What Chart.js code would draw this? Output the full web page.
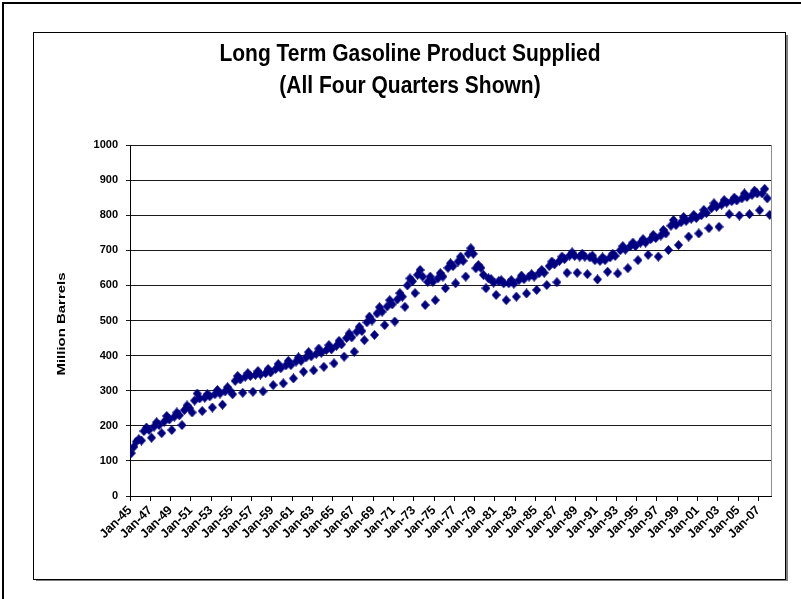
<!DOCTYPE html>
<html>
<head>
<meta charset="utf-8">
<script src="https://cdn.jsdelivr.net/npm/chart.js@4.4.1/dist/chart.umd.min.js"></script>
<style>
  html, body { margin: 0; padding: 0; background: #fff; }
  canvas { display: block; }
</style>
</head>
<body>
<canvas id="gasChart" width="801" height="599"></canvas>
<script>
// ── Data (million barrels per quarter, 1945..2008) ──────────
const firstYear = 1945;
const q1 = [122, 158, 166, 179, 188, 202, 238, 242, 252, 260,
            290, 294, 297, 298, 316, 321, 335, 354, 358, 368,
            378, 397, 411, 444, 459, 487, 497, 539, 578, 544,
            558, 592, 606, 625, 649, 592, 573, 558, 568, 577,
            587, 601, 609, 636, 636, 632, 617, 639, 634, 649,
            672, 687, 682, 701, 715, 739, 748, 763, 767, 803,
            799, 803, 814, 801];
const q2 = [140, 185, 198, 212, 226, 245, 272, 280, 290, 298,
            328, 340, 345, 350, 362, 372, 383, 395, 405, 416,
            428, 450, 468, 495, 520, 540, 560, 600, 630, 610,
            620, 650, 668, 690, 658, 620, 612, 606, 615, 625,
            635, 655, 670, 685, 682, 680, 670, 680, 700, 712,
            722, 732, 742, 770, 780, 790, 800, 820, 830, 840,
            848, 858, 862];
const q3 = [155, 195, 210, 228, 238, 258, 292, 290, 302, 310,
            342, 350, 356, 362, 376, 385, 395, 410, 420, 430,
            442, 463, 482, 511, 538, 558, 578, 620, 644, 625,
            635, 663, 682, 706, 650, 618, 615, 615, 628, 632,
            644, 668, 682, 694, 690, 685, 680, 690, 712, 722,
            732, 744, 758, 786, 795, 801, 815, 834, 843, 850,
            862, 870, 875];
const q4 = [162, 188, 202, 218, 230, 250, 278, 284, 292, 300,
            332, 342, 346, 352, 364, 373, 385, 398, 408, 418,
            432, 452, 470, 500, 525, 546, 568, 612, 625, 610,
            625, 655, 670, 690, 630, 608, 606, 605, 618, 625,
            636, 660, 675, 684, 682, 672, 672, 684, 702, 712,
            722, 735, 748, 772, 784, 792, 806, 824, 836, 842,
            852, 862, 848];

const xTickLabels = ["Jan-45", "Jan-47", "Jan-49", "Jan-51", "Jan-53", "Jan-55", "Jan-57", "Jan-59",
                     "Jan-61", "Jan-63", "Jan-65", "Jan-67", "Jan-69", "Jan-71", "Jan-73", "Jan-75",
                     "Jan-77", "Jan-79", "Jan-81", "Jan-83", "Jan-85", "Jan-87", "Jan-89", "Jan-91",
                     "Jan-93", "Jan-95", "Jan-97", "Jan-99", "Jan-01", "Jan-03", "Jan-05", "Jan-07"];
const yTickLabels = ["0", "100", "200", "300", "400", "500", "600", "700", "800", "900", "1000"];
const titleLines = ["Long Term Gasoline Product Supplied", "(All Four Quarters Shown)"];
const yTitle = "Million Barrels";

const NAVY = "#000080";
const FONT = '"Liberation Sans", Arial, sans-serif';

// quarters laid out as categories: point i sits in the middle of slot i
function quarterPoints() {
    const pts = [];
    for (let i = 0; i < q1.length; i++) {
        [q1[i], q2[i], q3[i], q4[i]].forEach((v, q) => {
            if (v === undefined) return;
            pts.push({ x: i * 4 + q + 0.5, y: v });
        });
    }
    return pts;
}
const points = quarterPoints();
const slotCount = points.length;

function diamond(w, h, color) {
    const c = document.createElement("canvas");
    c.width = w; c.height = h;
    const g = c.getContext("2d");
    g.fillStyle = color;
    g.beginPath();
    g.moveTo(w / 2, 0);
    g.lineTo(w, h / 2);
    g.lineTo(w / 2, h);
    g.lineTo(0, h / 2);
    g.closePath();
    g.fill();
    return c;
}

// ── Frames, title, axis title ────────────────────────────────
const decor = {
    id: "decor",
    beforeDraw(chart) {
        const ctx = chart.ctx;
        ctx.save();
        ctx.fillStyle = "#fff";
        ctx.fillRect(0, 0, chart.width, chart.height);
        // outer border (only top/left show in the crop)
        ctx.strokeStyle = "#000";
        ctx.lineWidth = 2;
        ctx.strokeRect(3, 3, 820, 620);
        // chart area frame with a soft shadow
        ctx.fillStyle = "#7f7f7f";
        ctx.fillRect(36, 579, 752, 2);
        ctx.fillRect(786, 35, 2, 546);
        ctx.lineWidth = 1;
        ctx.strokeRect(33.5, 32.5, 752, 547);
        ctx.restore();
    },
    beforeDatasetsDraw(chart) {
        const { ctx, chartArea: a } = chart;
        ctx.save();
        ctx.strokeStyle = "#8c8c8c";
        ctx.lineWidth = 1;
        ctx.beginPath();
        ctx.moveTo(Math.round(a.right) + 0.5, a.top);
        ctx.lineTo(Math.round(a.right) + 0.5, a.bottom);
        ctx.stroke();
        ctx.restore();
    },
    afterDraw(chart) {
        const ctx = chart.ctx;
        ctx.save();
        ctx.fillStyle = "#000";
        ctx.textAlign = "center";
        ctx.textBaseline = "alphabetic";
        ctx.font = "bold 21px " + FONT;
        [61, 93].forEach((y, i) => {
            ctx.save();
            ctx.translate(410, y);
            ctx.scale(1, 1.12);
            ctx.fillText(titleLines[i], 0, 0);
            ctx.restore();
        });
        ctx.font = "bold 11.5px " + FONT;
        ctx.textBaseline = "middle";
        ctx.translate(62, 324);
        ctx.rotate(-Math.PI / 2);
        ctx.scale(1.3, 1);
        ctx.fillText(yTitle, 0, 0);
        ctx.restore();
    }
};

new Chart(document.getElementById("gasChart"), {
    type: "scatter",
    data: {
        datasets: [{
            data: points,
            showLine: false,
            pointStyle: diamond(9, 10, NAVY),
            pointRadius: 4,
            backgroundColor: NAVY,
            borderColor: NAVY,
        }],
    },
    options: {
        responsive: false,
        animation: false,
        events: [],
        layout: { padding: { left: 70, right: 30, top: 145, bottom: 43 } },
        plugins: {
            legend: { display: false },
            tooltip: { enabled: false },
            title: { display: false },
        },
        scales: {
            x: {
                type: "linear",
                min: 0,
                max: slotCount,
                afterFit: (s) => { s.height = 60; },
                grid: { drawOnChartArea: false, drawTicks: true, tickLength: 5, color: "#000" },
                border: { color: "#000" },
                ticks: {
                    stepSize: 8,
                    includeBounds: false,
                    autoSkip: false,
                    minRotation: 45,
                    maxRotation: 45,
                    padding: 2,
                    color: "#000",
                    font: { family: FONT, size: 12.5, weight: "bold" },
                    callback: (v) => xTickLabels[v / 8] ?? "",
                },
            },
            y: {
                min: 0,
                max: 1000,
                afterFit: (s) => { s.width = 60; },
                grid: { color: "#1a1a1a", tickLength: 4 },
                border: { color: "#000" },
                ticks: {
                    stepSize: 100,
                    padding: 8,
                    color: "#000",
                    font: { family: FONT, size: 11, weight: "bold" },
                    callback: (v) => yTickLabels[v / 100] ?? "",
                },
            },
        },
    },
    plugins: [decor],
});
</script>
</body>
</html>
